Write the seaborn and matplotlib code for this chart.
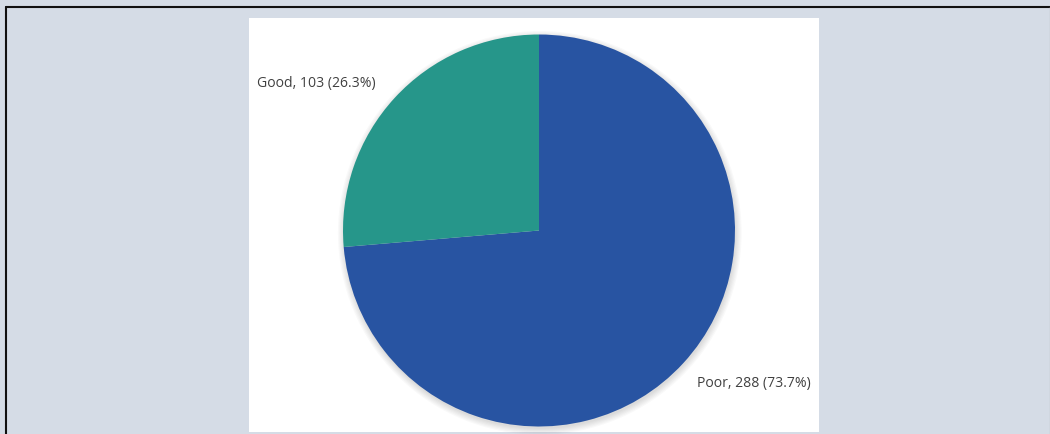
import matplotlib
matplotlib.use("Agg")
import matplotlib.pyplot as plt
import seaborn as sns
from matplotlib.patches import Rectangle, Circle
from matplotlib.lines import Line2D

sns.set_theme(style="white")
plt.rcParams['font.family'] = ['Open Sans', 'DejaVu Sans']

categories = ["Poor", "Good"]
counts = [288, 103]
percents = [73.7, 26.3]
colors = ["#2854a2", "#26968a"]

W, H = 1050, 434
fig = plt.figure(figsize=(W / 100, H / 100), dpi=100)
fig.patch.set_facecolor("#d5dce6")

# white chart panel
fig.patches.append(Rectangle((249 / W, (H - 432) / H), (819 - 249) / W, (432 - 18) / H,
                             transform=fig.transFigure, facecolor="white",
                             edgecolor="none", zorder=-5))
# outer border lines
fig.lines.append(Line2D([6 / W, 1], [1 - 7 / H, 1 - 7 / H], transform=fig.transFigure,
                        color="#111111", lw=1.5, zorder=-4))
fig.lines.append(Line2D([6 / W, 6 / W], [0, 1 - 7 / H], transform=fig.transFigure,
                        color="#111111", lw=1.5, zorder=-4))
fig.lines.append(Line2D([1049.5 / W, 1049.5 / W], [0, 1 - 7 / H], transform=fig.transFigure,
                        color="#c0c4c8", lw=1, zorder=-4))

cx, cy, r = 539, 230.5, 196
ax = fig.add_axes([(cx - r - 10) / W, (H - cy - r - 10) / H, (2 * r + 20) / W, (2 * r + 20) / H])
ax.patch.set_visible(False)

ax.pie(counts, colors=colors, startangle=90, counterclock=False, radius=1.0,
       wedgeprops=dict(edgecolor="none", linewidth=0), frame=False)

# soft shadow
for i in range(6):
    ax.add_patch(Circle((0.004, -0.012), 1.0 + 0.006 * i, facecolor="#000000",
                        alpha=0.025, edgecolor="none", zorder=-1))

lim = (r + 10) / r
ax.set_xlim(-lim, lim)
ax.set_ylim(-lim, lim)
ax.set_aspect("auto")
ax.axis("off")

labels = [f"{c}, {n} ({p}%)" for c, n, p in zip(categories, counts, percents)]
pos = {"Poor": (697, 384), "Good": (257, 84)}
for cat, lab in zip(categories, labels):
    x, y = pos[cat]
    fig.text(x / W, 1 - y / H, lab, ha="left", va="center", fontsize=10.1,
             color="#404040")

fig.savefig("out.png", dpi=100, facecolor=fig.get_facecolor())
